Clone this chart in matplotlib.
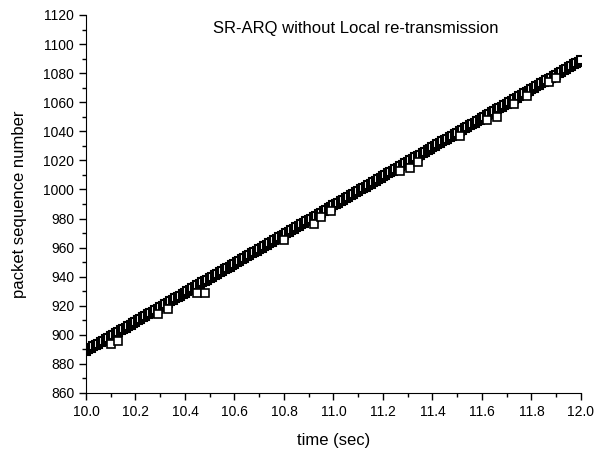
import matplotlib.pyplot as plt
from matplotlib.ticker import MultipleLocator, FormatStrFormatter

plt.rcParams['font.family'] = ['Liberation Sans', 'DejaVu Sans']

# packets received in order (time in sec, sequence number)
time_sec = [
    10.00, 10.01, 10.02, 10.03, 10.04, 10.05, 10.06, 10.07, 10.08, 10.09,
    10.10, 10.11, 10.12, 10.13, 10.14, 10.15, 10.16, 10.17, 10.18, 10.19,
    10.20, 10.21, 10.22, 10.23, 10.24, 10.25, 10.26, 10.27, 10.28, 10.29,
    10.30, 10.31, 10.32, 10.33, 10.34, 10.35, 10.36, 10.37, 10.38, 10.39,
    10.40, 10.41, 10.42, 10.43, 10.44, 10.45, 10.46, 10.47, 10.48, 10.49,
    10.50, 10.51, 10.52, 10.53, 10.54, 10.55, 10.56, 10.57, 10.58, 10.59,
    10.60, 10.61, 10.62, 10.63, 10.64, 10.65, 10.66, 10.67, 10.68, 10.69,
    10.70, 10.71, 10.72, 10.73, 10.74, 10.75, 10.76, 10.77, 10.78, 10.79,
    10.80, 10.81, 10.82, 10.83, 10.84, 10.85, 10.86, 10.87, 10.88, 10.89,
    10.90, 10.91, 10.92, 10.93, 10.94, 10.95, 10.96, 10.97, 10.98, 10.99,
    11.00, 11.01, 11.02, 11.03, 11.04, 11.05, 11.06, 11.07, 11.08, 11.09,
    11.10, 11.11, 11.12, 11.13, 11.14, 11.15, 11.16, 11.17, 11.18, 11.19,
    11.20, 11.21, 11.22, 11.23, 11.24, 11.25, 11.26, 11.27, 11.28, 11.29,
    11.30, 11.31, 11.32, 11.33, 11.34, 11.35, 11.36, 11.37, 11.38, 11.39,
    11.40, 11.41, 11.42, 11.43, 11.44, 11.45, 11.46, 11.47, 11.48, 11.49,
    11.50, 11.51, 11.52, 11.53, 11.54, 11.55, 11.56, 11.57, 11.58, 11.59,
    11.60, 11.61, 11.62, 11.63, 11.64, 11.65, 11.66, 11.67, 11.68, 11.69,
    11.70, 11.71, 11.72, 11.73, 11.74, 11.75, 11.76, 11.77, 11.78, 11.79,
    11.80, 11.81, 11.82, 11.83, 11.84, 11.85, 11.86, 11.87, 11.88, 11.89,
    11.90, 11.91, 11.92, 11.93, 11.94, 11.95, 11.96, 11.97, 11.98, 11.99,
    12.00,
]
seq_num = [
    889, 890, 891, 892, 893, 894, 895, 896, 897, 898,
    899, 900, 901, 902, 903, 904, 905, 906, 907, 908,
    909, 910, 911, 912, 913, 914, 915, 916, 917, 918,
    919, 920, 921, 922, 923, 924, 925, 926, 927, 928,
    929, 930, 931, 932, 933, 934, 935, 936, 937, 938,
    939, 940, 941, 942, 943, 944, 945, 946, 947, 948,
    949, 950, 951, 952, 953, 954, 955, 956, 957, 958,
    959, 960, 961, 962, 963, 964, 965, 966, 967, 968,
    969, 970, 971, 972, 973, 974, 975, 976, 977, 978,
    979, 980, 981, 982, 983, 984, 985, 986, 987, 988,
    989, 990, 991, 992, 993, 994, 995, 996, 997, 998,
    999, 1000, 1001, 1002, 1003, 1004, 1005, 1006, 1007, 1008,
    1009, 1010, 1011, 1012, 1013, 1014, 1015, 1016, 1017, 1018,
    1019, 1020, 1021, 1022, 1023, 1024, 1025, 1026, 1027, 1028,
    1029, 1030, 1031, 1032, 1033, 1034, 1035, 1036, 1037, 1038,
    1039, 1040, 1041, 1042, 1043, 1044, 1045, 1046, 1047, 1048,
    1049, 1050, 1051, 1052, 1053, 1054, 1055, 1056, 1057, 1058,
    1059, 1060, 1061, 1062, 1063, 1064, 1065, 1066, 1067, 1068,
    1069, 1070, 1071, 1072, 1073, 1074, 1075, 1076, 1077, 1078,
    1079, 1080, 1081, 1082, 1083, 1084, 1085, 1086, 1087, 1088,
    1089,
]

# packets that show up late (below the main line)
late_time = [10.10, 10.13, 10.29, 10.33, 10.45, 10.48, 10.80, 10.92, 10.95,
             10.99, 11.27, 11.31, 11.34, 11.51, 11.62, 11.66, 11.73, 11.78,
             11.87, 11.90]
late_seq = [894, 896, 914, 918, 929, 929, 965, 976, 981, 985, 1013, 1015,
            1019, 1037, 1048, 1050, 1059, 1064, 1074, 1077]

fig = plt.figure(figsize=(6.03, 4.5), dpi=100)
ax = fig.add_axes([0.1426, 0.1267, 0.8209, 0.84])

ax.plot(time_sec, seq_num, linestyle='none', marker='s', markersize=6,
        markerfacecolor='white', markeredgecolor='black', markeredgewidth=1.5)
ax.plot(late_time, late_seq, linestyle='none', marker='s', markersize=6,
        markerfacecolor='white', markeredgecolor='black', markeredgewidth=1.2)

ax.set_xlim(10.0, 12.0)
ax.set_ylim(860, 1120)
ax.xaxis.set_major_locator(MultipleLocator(0.2))
ax.xaxis.set_minor_locator(MultipleLocator(0.1))
ax.yaxis.set_major_locator(MultipleLocator(20))
ax.yaxis.set_minor_locator(MultipleLocator(10))
ax.xaxis.set_major_formatter(FormatStrFormatter('%.1f'))

ax.spines['top'].set_visible(False)
ax.spines['right'].set_visible(False)
ax.tick_params(which='major', direction='out', length=5, width=1, labelsize=10)
ax.tick_params(which='minor', direction='out', length=3, width=1)

ax.set_xlabel('time (sec)', fontsize=12, labelpad=10)
ax.set_ylabel('packet sequence number', fontsize=12, labelpad=12)
ax.text(0.545, 0.985, 'SR-ARQ without Local re-transmission', transform=ax.transAxes,
        ha='center', va='top', fontsize=12)

plt.savefig('out.png')
plt.close()
